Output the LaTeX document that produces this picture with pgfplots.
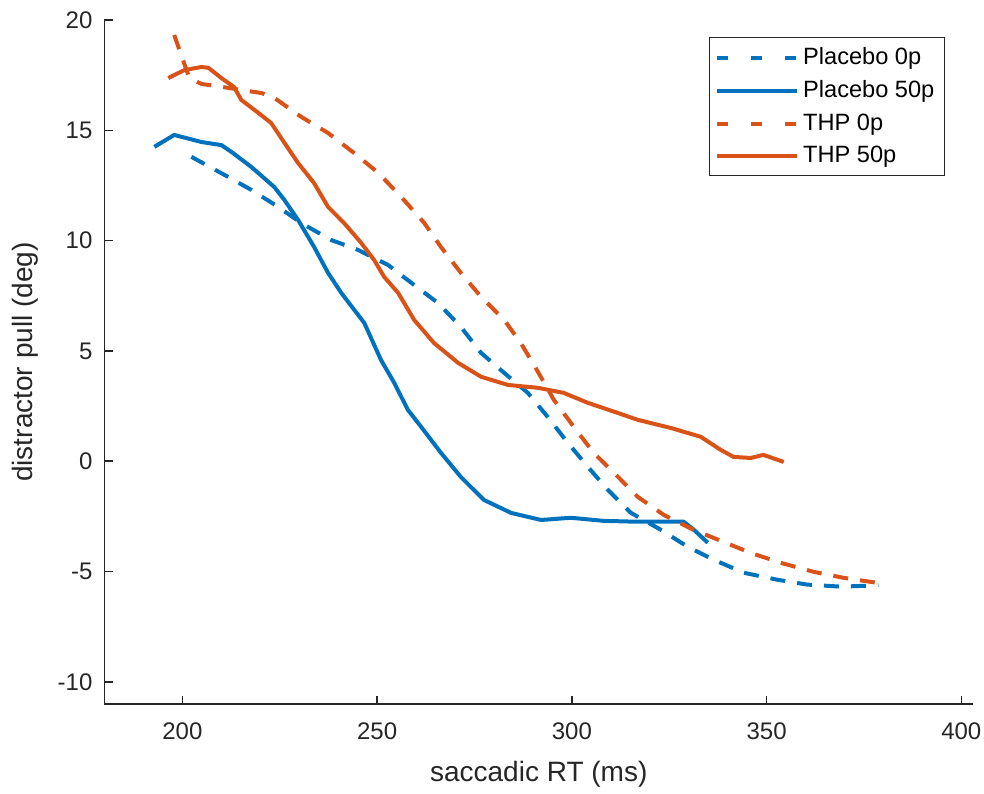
\documentclass[border=0pt]{standalone}
\usepackage{fontspec}
\setmainfont{Liberation Sans}
\usepackage{pgfplots}
\pgfplotsset{compat=1.18}
\definecolor{mblue}{RGB}{0,114,189}
\definecolor{morange}{RGB}{217,83,25}
\definecolor{axgray}{RGB}{38,38,38}
\pgfplotsset{
  dashleg/.style={legend image code/.code={\draw[##1, dash pattern=on 5.5pt off 11.5pt] (0pt,0pt) -- (40pt,0pt);}},
  solidleg/.style={legend image code/.code={\draw[##1] (0pt,0pt) -- (40pt,0pt);}},
}
\begin{document}
\begin{tikzpicture}
\path[use as bounding box] (-52.25pt,-44.5pt) rectangle (439.75pt,352pt);
\begin{axis}[
  at={(0,0)}, anchor=south west,
  scale only axis, width=434.25pt, height=342pt,
  xmin=180, xmax=403, ymin=-11, ymax=20,
  axis lines=left, axis line style={-, axgray, line width=0.8pt},
  tick align=inside, major tick length=4pt,
  tick style={axgray, line width=0.8pt},
  xtick={200,250,300,350,400}, ytick={-10,-5,0,5,10,15,20},
  /pgf/number format/assume math mode=true,
  ticklabel style={font=\fontsize{12}{14}\selectfont, text=axgray},
  xticklabel style={yshift=-6pt},
  yticklabel style={xshift=-2.5pt},
  xlabel={saccadic RT (ms)}, ylabel={distractor pull (deg)},
  label style={font=\fontsize{14}{16}\selectfont, text=axgray},
  xlabel style={at={(rel axis cs:0.5,0)}, anchor=center, yshift=-35pt},
  ylabel style={at={(rel axis cs:0,0.5)}, anchor=center, yshift=39.75pt},
  legend style={at={(1,1)}, anchor=north east, xshift=-14pt, yshift=-8.5pt,
    draw=axgray, line width=0.6pt, font=\fontsize{11.8}{13}\selectfont,
    row sep=2.5pt, inner sep=3pt},
  legend cell align=left,
  solidleg,
  clip=false,
]
\addplot[mblue, line width=2pt, dash pattern=on 7.5pt off 6pt, dashleg]
coordinates {
(202.3,13.8) (210.8,12.98) (217.7,12.30) (224.6,11.53) (230.5,10.80)
(238.2,10.03) (245.1,9.58) (252.8,8.90) (259.5,7.99) (265.6,7.18)
(271.5,6.09) (276.7,4.91) (282.6,4.01) (288.7,3.10) (293.8,2.01)
(299.0,0.83) (304.1,-0.25) (309.2,-1.29) (315.1,-2.33) (322.8,-3.10)
(329.7,-3.87) (336.4,-4.46) (344.1,-5.05) (352.8,-5.37) (360.5,-5.59)
(369.0,-5.68) (375.9,-5.64) (378.7,-5.60)
};
\addlegendentry{Placebo 0p}
\addplot[mblue, line width=2pt]
coordinates {
(192.8,14.25) (197.9,14.79) (204.9,14.47) (210.0,14.33) (212.6,14.02)
(217.7,13.34) (223.6,12.43) (226.2,11.84) (229.7,10.94) (233.8,9.72)
(237.4,8.54) (240.8,7.63) (246.7,6.27) (251.0,4.59) (254.4,3.55)
(257.9,2.33) (261.3,1.56) (266.4,0.38) (271.5,-0.71) (277.4,-1.75)
(284.4,-2.34) (292.1,-2.66) (299.7,-2.56) (308.2,-2.70) (316.9,-2.74)
(328.7,-2.74) (331.3,-3.10) (334.9,-3.69)
};
\addlegendentry{Placebo 50p}
\addplot[morange, line width=2pt, dash pattern=on 7.5pt off 6pt, dashleg]
coordinates {
(197.9,19.32) (199.7,18.41) (201.8,17.37) (204.9,17.10) (208.7,17.01)
(215.1,16.83) (220.3,16.69) (223.6,16.47) (230.5,15.61) (237.4,14.88)
(244.1,13.97) (250.3,13.07) (256.2,11.98) (262.1,10.80) (266.4,9.71)
(271.5,8.54) (276.7,7.45) (282.6,6.41) (286.9,5.36) (291.3,4.05)
(295.4,2.78) (300.5,1.56) (305.6,0.38) (310.8,-0.52) (316.9,-1.61)
(323.6,-2.43) (331.3,-3.11) (338.2,-3.60) (345.9,-4.15) (353.6,-4.60)
(362.1,-5.01) (369.7,-5.28) (378.5,-5.51)
};
\addlegendentry{THP 0p}
\addplot[morange, line width=2pt]
coordinates {
(196.4,17.37) (200.5,17.73) (204.9,17.87) (206.7,17.83) (210.0,17.37)
(213.3,16.96) (215.1,16.38) (219.5,15.79) (222.8,15.33) (226.2,14.43)
(229.7,13.52) (233.8,12.61) (237.4,11.53) (241.5,10.80) (245.9,9.90)
(249.2,9.13) (251.8,8.36) (255.4,7.63) (259.5,6.41) (264.6,5.36)
(270.8,4.46) (276.7,3.83) (283.6,3.46) (291.3,3.33) (297.9,3.10)
(304.1,2.65) (311.8,2.19) (316.9,1.88) (325.4,1.51) (333.1,1.11)
(338.2,0.52) (341.5,0.20) (345.9,0.15) (349.2,0.29) (354.4,-0.03)
};
\addlegendentry{THP 50p}
\end{axis}
\end{tikzpicture}
\end{document}
